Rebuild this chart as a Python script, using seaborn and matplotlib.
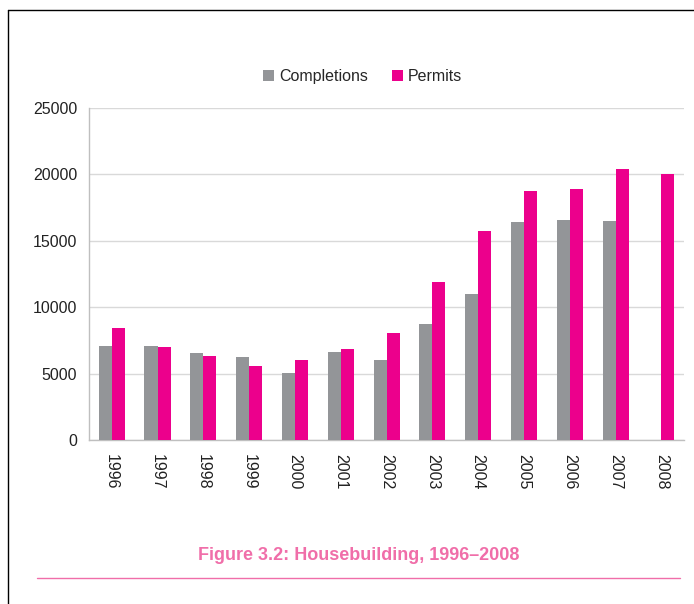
import numpy as np
import pandas as pd
import matplotlib.pyplot as plt
from matplotlib.lines import Line2D
import seaborn as sns

years = ["1996", "1997", "1998", "1999", "2000", "2001", "2002",
         "2003", "2004", "2005", "2006", "2007", "2008"]
completions = [7100, 7100, 6550, 6280, 5020, 6600, 6020,
               8710, 10970, 16390, 16590, 16470, np.nan]
permits = [8410, 6980, 6330, 5570, 6050, 6850, 8080,
           11900, 15710, 18730, 18880, 20430, 20030]

series_names = ["Completions", "Permits"]
colors = ["#939598", "#EC008C"]

df = pd.DataFrame({
    "year": years * 2,
    "value": completions + permits,
    "series": [series_names[0]] * len(years) + [series_names[1]] * len(years),
})

sns.set_style("white")
plt.rcParams["font.family"] = ["Liberation Sans", "DejaVu Sans"]

fig = plt.figure(figsize=(6.94, 6.04), dpi=100)
ax = fig.add_axes([0.128, 0.2715, 0.858, 0.5495])

sns.barplot(data=df, x="year", y="value", hue="series", order=years,
            hue_order=series_names, palette=colors, width=0.57,
            saturation=1, edgecolor="none", ax=ax, zorder=3)

ax.set_ylim(0, 25000)
ax.set_xlim(-0.5, len(years) - 0.5)
ax.set_yticks(range(0, 25001, 5000))
ax.yaxis.grid(True, color="#D9D9D9", linewidth=1, zorder=0)
ax.set_xlabel("")
ax.set_ylabel("")

for side in ["top", "right"]:
    ax.spines[side].set_visible(False)
for side in ["left", "bottom"]:
    ax.spines[side].set_color("#BFBFBF")
    ax.spines[side].set_linewidth(1)

ax.set_xticks(np.arange(-0.5, len(years)), minor=True)
ax.tick_params(axis="x", which="major", length=0, pad=10, labelsize=11.5,
               labelrotation=270, colors="#222222")
ax.tick_params(axis="x", which="minor", length=5, color="#BFBFBF", width=1)
ax.tick_params(axis="y", length=5, color="#BFBFBF", labelsize=11.5, colors="#222222")

ax.legend(loc="center", bbox_to_anchor=(0.46, 1.096), ncol=2, frameon=False,
          handlelength=0.7, handleheight=0.7, handletextpad=0.3, columnspacing=1.5,
          fontsize=11.5)

fig.text(359 / 694, 1 - 555 / 604, "Figure 3.2: Housebuilding, 1996\u20132008",
         ha="center", va="center", fontsize=13, fontweight="bold", color="#F06EA9")
fig.add_artist(Line2D([37 / 694, 680 / 694], [1 - 578 / 604] * 2,
                      transform=fig.transFigure, color="#F06EA9", linewidth=1))

# page frame
fig.add_artist(Line2D([8 / 694, 8 / 694], [0, 1 - 10 / 604],
                      transform=fig.transFigure, color="black", linewidth=1))
fig.add_artist(Line2D([8 / 694, 1], [1 - 10 / 604] * 2,
                      transform=fig.transFigure, color="black", linewidth=1))

fig.savefig("out.png", dpi=100)
